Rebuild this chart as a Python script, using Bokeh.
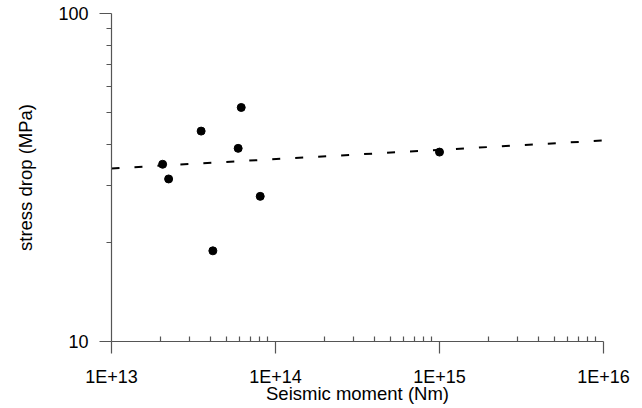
from bokeh.plotting import figure
from bokeh.models import Range1d, FixedTicker, CustomJSTickFormatter
from bokeh.embed import file_html
from bokeh.resources import INLINE

# Data
moment = [2.05e13, 2.23e13, 3.52e13, 6.18e13, 5.92e13, 8.07e13, 4.15e13, 1.0e15]
stress = [34.7, 31.3, 43.8, 51.7, 38.8, 27.7, 18.9, 37.8]
fit_moment = [1e13, 1e16]
fit_stress = [33.7, 41.0]
x_major = [1e13, 1e14, 1e15, 1e16]
y_major = [10, 100]
x_minor = [m * 10 ** e for e in (13, 14, 15) for m in range(2, 10)]
y_minor = [m * 10 for m in range(2, 10)]

FONT = "Liberation Sans"

p = figure(width=634, height=408, x_axis_type="log", y_axis_type="log",
           x_range=Range1d(1e13, 1e16), y_range=Range1d(10, 100),
           output_backend="svg", toolbar_location=None,
           min_border_left=111, min_border_right=31,
           min_border_top=13, min_border_bottom=67)
p.xgrid.visible = False
p.ygrid.visible = False
p.outline_line_color = None
p.background_fill_color = "white"
p.border_fill_color = "white"

p.line(fit_moment, fit_stress, line_color="black", line_width=2, line_dash="8 15")
p.scatter(moment, stress, size=8, color="black", marker="circle")

xa = p.xaxis[0]
ya = p.yaxis[0]
xa.ticker = FixedTicker(ticks=x_major, minor_ticks=x_minor)
ya.ticker = FixedTicker(ticks=y_major, minor_ticks=y_minor)
xa.formatter = CustomJSTickFormatter(code='return "1E+" + Math.round(Math.log10(tick));')
ya.formatter = CustomJSTickFormatter(code='return Math.round(tick).toString();')

for ax in (xa, ya):
    ax.axis_line_color = "#555555"
    ax.major_tick_line_color = "#555555"
    ax.minor_tick_line_color = "#555555"
    ax.axis_line_width = 1.2
    ax.major_tick_line_width = 1.2
    ax.minor_tick_line_width = 1.2
    ax.major_tick_out = 12
    ax.major_tick_in = 0
    ax.major_label_text_font = FONT
    ax.major_label_text_font_size = "18px"
    ax.major_label_text_color = "black"
    ax.axis_label_text_font = FONT
    ax.axis_label_text_font_size = "18.5px"
    ax.axis_label_text_font_style = "normal"
    ax.axis_label_text_color = "black"

xa.minor_tick_in = 5
xa.minor_tick_out = 0
ya.minor_tick_in = 0
ya.minor_tick_out = 5
xa.major_label_standoff = 13
ya.major_label_standoff = 11
xa.axis_label = "Seismic moment (Nm)"
ya.axis_label = "stress drop (MPa)"
xa.axis_label_standoff = -7
ya.axis_label_standoff = 19

open("out.html", "w").write(file_html(p, INLINE))
